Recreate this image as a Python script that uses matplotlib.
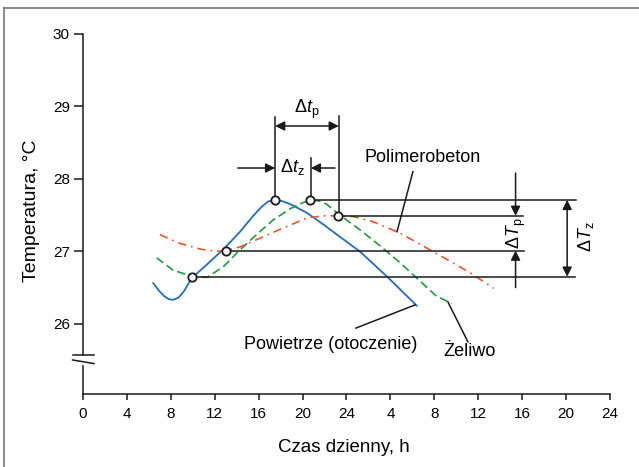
import matplotlib
matplotlib.use('Agg')
import matplotlib.pyplot as plt
import numpy as np

plt.rcParams['font.family'] = ['Liberation Sans', 'DejaVu Sans']
plt.rcParams['mathtext.fontset'] = 'custom'
plt.rcParams['mathtext.rm'] = 'Liberation Sans'
plt.rcParams['mathtext.it'] = 'Liberation Sans:italic'

# air temperature (Powietrze)
air_h = [6.4, 6.9, 7.4, 7.8, 8.2, 8.7, 9.2, 9.9, 11.3, 12.8, 14.3, 15.5, 16.3, 16.9, 17.5, 18.2, 18.9, 20.4, 21.9, 23.4, 25.2, 27.7, 30.4]
air_t = [26.56, 26.46, 26.38, 26.34, 26.33, 26.36, 26.45, 26.63, 26.82, 27.03, 27.27, 27.49, 27.62, 27.69, 27.71, 27.69, 27.65, 27.53, 27.37, 27.20, 27.00, 26.65, 26.25]

# cast iron (Żeliwo)
iron_h = [6.7, 8.2, 9.8, 11.3, 12.8, 14.3, 15.8, 17.3, 18.9, 20.0, 20.7, 21.4, 22.2, 23.4, 25.2, 27.1, 28.9, 30.4, 32.2, 33.6]
iron_t = [26.91, 26.74, 26.66, 26.64, 26.79, 27.02, 27.23, 27.43, 27.59, 27.67, 27.70, 27.70, 27.65, 27.50, 27.30, 27.07, 26.84, 26.63, 26.38, 26.28]

# polymer concrete (Polimerobeton)
poly_h = [7.0, 8.8, 10.7, 12.2, 13.0, 14.3, 16.1, 17.9, 20.4, 21.9, 23.2, 24.6, 26.4, 28.9, 31.6, 33.7, 35.3, 37.4]
poly_t = [27.23, 27.11, 27.03, 27.00, 27.01, 27.06, 27.18, 27.30, 27.46, 27.49, 27.49, 27.48, 27.41, 27.25, 27.02, 26.84, 26.70, 26.49]

# marked extremes
mark_h = [17.5, 20.7, 23.2, 13.0, 9.9]
mark_t = [27.71, 27.71, 27.49, 27.01, 26.65]

xticks = list(range(0, 49, 4))
xtick_labels = ['0', '4', '8', '12', '16', '20', '24', '4', '8', '12', '16', '20', '24']
yticks = [26, 27, 28, 29, 30]

fig = plt.figure(figsize=(6.39, 4.67), dpi=100)
ax = fig.add_axes([0.1299, 0.1563, 0.8247, 0.7709])
ax.set_xlim(0, 48)
ax.set_ylim(25.03, 30)

blue = '#1f6fc1'
green = '#1f9c3c'
red = '#ec5428'
ink = '#1a1a1a'

ax.plot(air_h, air_t, color=blue, lw=1.3)
ax.plot(iron_h, iron_t, color=green, lw=1.2, dashes=(5, 2.5))
ax.plot(poly_h, poly_t, color=red, lw=1.2, dashes=(5, 3, 1, 3))

# horizontal reference lines
ax.plot([20.7, 44.9], [27.71, 27.71], color=ink, lw=1.1)
ax.plot([23.2, 40.1], [27.49, 27.49], color=ink, lw=1.1)
ax.plot([13.0, 40.2], [27.01, 27.01], color=ink, lw=1.1)
ax.plot([9.9, 44.8], [26.65, 26.65], color=ink, lw=1.1)

# vertical reference lines
ax.plot([17.5, 17.5], [27.71, 28.86], color=ink, lw=1.1)
ax.plot([20.75, 20.75], [27.71, 28.29], color=ink, lw=1.1)
ax.plot([23.3, 23.3], [27.49, 28.87], color=ink, lw=1.1)

ax.plot(mark_h, mark_t, 'o', ms=6, mfc='white', mec=ink, mew=1.3, zorder=5)

arr = dict(arrowstyle='-|>', color=ink, lw=1.1, mutation_scale=14, shrinkA=0, shrinkB=0)
arr2 = dict(arrowstyle='<|-|>', color=ink, lw=1.1, mutation_scale=14, shrinkA=0, shrinkB=0)

# time shifts
ax.annotate('', xy=(17.5, 28.73), xytext=(23.3, 28.73), arrowprops=arr2)
ax.text(20.4, 28.96, r'$\Delta t_\mathrm{p}$', fontsize=13, ha='center', va='center')
ax.annotate('', xy=(17.5, 28.15), xytext=(14.1, 28.15), arrowprops=arr)
ax.annotate('', xy=(20.75, 28.15), xytext=(22.95, 28.15), arrowprops=arr)
ax.text(19.1, 28.17, r'$\Delta t_\mathrm{z}$', fontsize=13, ha='center', va='center')

# amplitude differences
ax.annotate('', xy=(39.4, 27.49), xytext=(39.4, 28.08), arrowprops=arr)
ax.annotate('', xy=(39.4, 27.01), xytext=(39.4, 26.5), arrowprops=arr)
ax.text(39.5, 27.25, r'$\Delta T_\mathrm{p}$', fontsize=13, rotation=90, ha='center', va='center')
ax.annotate('', xy=(44.1, 27.71), xytext=(44.1, 26.65), arrowprops=arr2)
ax.text(45.8, 27.2, r'$\Delta T_\mathrm{z}$', fontsize=13, rotation=90, ha='center', va='center')

# labels with leaders
ax.text(30.9, 28.30, 'Polimerobeton', fontsize=13, ha='center', va='center')
ax.plot([30.05, 28.6], [28.10, 27.27], color=ink, lw=1.1)
ax.text(22.6, 25.72, 'Powietrze (otoczenie)', fontsize=13, ha='center', va='center')
ax.plot([24.86, 30.24], [25.94, 26.26], color=ink, lw=1.1)
ax.text(35.25, 25.62, 'Żeliwo', fontsize=13, ha='center', va='center')
ax.plot([35.06, 33.24], [25.75, 26.30], color=ink, lw=1.1)

ax.set_xticks(xticks)
ax.set_xticklabels(xtick_labels)
ax.set_yticks(yticks)
ax.tick_params(axis='x', length=4.5, width=1.1, color=ink, labelsize=11, pad=5)
ax.tick_params(axis='y', length=6.5, width=1.1, color=ink, labelsize=11, pad=3)

for s in ['top', 'right']:
    ax.spines[s].set_visible(False)
ax.spines['bottom'].set_color(ink)
ax.spines['bottom'].set_linewidth(1.1)
ax.spines['left'].set_color(ink)
ax.spines['left'].set_linewidth(1.1)
ax.spines['left'].set_bounds(25.57, 30)

# lower piece of the broken y axis and the break marks
ax.plot([0, 0], [25.03, 25.42], color=ink, lw=1.1, clip_on=False)
ax.plot([-0.95, 1.0], [25.57, 25.57], color=ink, lw=1.1, clip_on=False)
ax.plot([-0.95, 1.0], [25.50, 25.45], color=ink, lw=1.1, clip_on=False)

fig.text(344 / 639, 1 - 448 / 467, 'Czas dzienny, h', fontsize=13.5, ha='center', va='center')
fig.text(31 / 639, 1 - 211 / 467, 'Temperatura, °C', fontsize=14, rotation=90, ha='center', va='center')

# outer frame (top and left edges)
fig.add_artist(plt.Line2D([4 / 639, 4 / 639], [0, 1 - 8 / 467], color='#777777', lw=1.2))
fig.add_artist(plt.Line2D([4 / 639, 1], [1 - 8 / 467, 1 - 8 / 467], color='#777777', lw=1.2))

fig.savefig('out.png', dpi=100)
